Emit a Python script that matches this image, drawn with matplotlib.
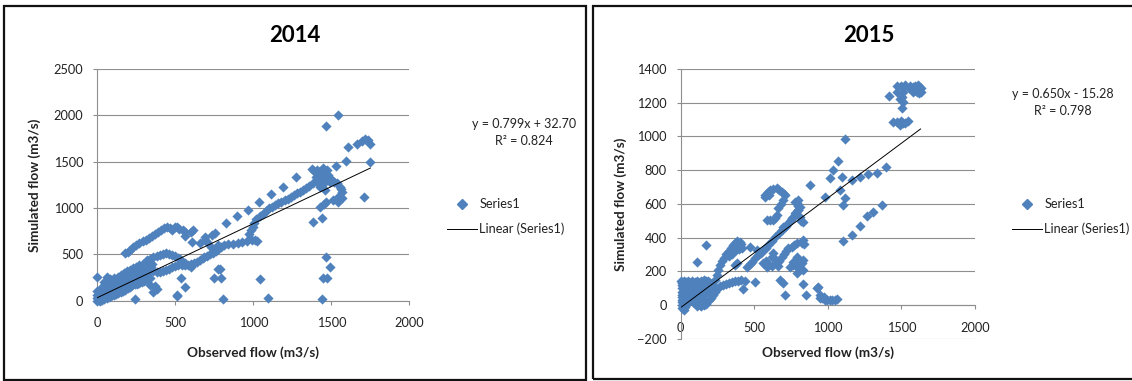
import matplotlib
matplotlib.use("Agg")
import matplotlib.pyplot as plt
from matplotlib.lines import Line2D
from matplotlib.patches import Rectangle
import numpy as np

plt.rcParams['font.family'] = ['Lato', 'DejaVu Sans']

# observed vs simulated daily flow (m3/s)
points_2014 = [
    # dense band near the origin
    (0, 0), (10, 5), (20, 0), (30, 10), (45, 20), (60, 30), (75, 40), (90, 50), (105, 65), (120, 75),
    (135, 85), (150, 95), (165, 110), (180, 120), (195, 135), (210, 150), (225, 165), (240, 175),
    (255, 185), (270, 195), (285, 205), (300, 215), (320, 230), (340, 240),
    (0, 30), (15, 40), (30, 50), (45, 60), (60, 75), (75, 90), (90, 100), (105, 115), (120, 130),
    (135, 140), (150, 155), (165, 170), (180, 185), (195, 195), (210, 210), (225, 225), (240, 240),
    (255, 250), (270, 265), (285, 275), (300, 290), (315, 300), (330, 310),
    (0, 60), (20, 80), (40, 100), (55, 110), (70, 130), (85, 145), (100, 160), (115, 175), (130, 190),
    (145, 205), (160, 220), (175, 235), (190, 250), (205, 265), (220, 280), (235, 295), (250, 310),
    (265, 325), (280, 340), (295, 355), (310, 370), (325, 385),
    (0, 100), (25, 140), (50, 170), (70, 190), (90, 220), (110, 240), (130, 260), (150, 280),
    (170, 300), (190, 320), (210, 335), (230, 350), (250, 365), (270, 380), (290, 400), (310, 420),
    (0, 259), (60, 260), (80, 230), (40, 200), (241, 14), (338, 169), (359, 97), (380, 130), (370, 160),
    (200, 200), (260, 220), (280, 300), (230, 260), (160, 190), (120, 150),
    # loop between 300 and 560
    (320, 440), (340, 455), (360, 470), (380, 485), (400, 495), (420, 505), (440, 510), (460, 505),
    (480, 495), (500, 480), (515, 465), (530, 445), (545, 420), (555, 400),
    (340, 330), (360, 320), (380, 310), (400, 315), (420, 320), (440, 330), (460, 345), (480, 360),
    (500, 375), (520, 385), (540, 390), (560, 385), (350, 400), (330, 380), (345, 360),
    (535, 248), (560, 151), (514, 61),
    # lower strand up to 1000
    (560, 410), (580, 380), (600, 395), (620, 410), (640, 420), (660, 440), (680, 460), (700, 480),
    (720, 500), (740, 520), (760, 540), (775, 560), (790, 580), (600, 367), (681, 475), (729, 583),
    (810, 600), (840, 610), (870, 615), (900, 620), (930, 630), (960, 640), (990, 650), (1010, 660),
    (1025, 640),
    (605, 637), (658, 619), (692, 691), (701, 637), (735, 709), (754, 727), (776, 601), (693, 655),
    # upper strand from 180 to 560
    (180, 510), (195, 530), (210, 550), (230, 575), (250, 600), (270, 620), (290, 640), (310, 660),
    (330, 680), (350, 700), (370, 720), (390, 740), (410, 760), (430, 780), (445, 800), (465, 780),
    (480, 760), (495, 790), (510, 800), (525, 770), (550, 760), (560, 700), (565, 740), (600, 744),
    (613, 762),
    # rising strand beyond 1000
    (975, 720), (985, 760), (995, 800), (1005, 840), (1020, 880), (1040, 910), (1060, 940),
    (1080, 970), (1100, 995), (1120, 1015), (1140, 1035), (1160, 1050), (1180, 1065), (1200, 1085),
    (1220, 1100), (1240, 1120), (1260, 1140), (1280, 1160), (1300, 1175), (1320, 1195), (1340, 1215),
    (1360, 1240), (1380, 1270),
    (823, 835), (893, 917), (964, 978), (1039, 1061), (1111, 1147), (1188, 1230), (1274, 1331),
    # cluster near 1450
    (1374, 1417), (1390, 1400), (1406, 1410), (1420, 1390), (1449, 1428), (1470, 1410), (1427, 1356),
    (1449, 1302), (1406, 1284), (1470, 1338), (1492, 1284), (1427, 1230), (1460, 1194), (1440, 1320),
    (1460, 1380), (1480, 1360), (1400, 1340), (1415, 1310), (1445, 1260),
    (1502, 1302), (1534, 1266), (1555, 1230), (1566, 1176), (1545, 1122), (1513, 1086), (1545, 1068),
    (1566, 1104), (1520, 1280), (1560, 1200),
    (1464, 1068), (1427, 1007), (1385, 852), (1438, 888), (1450, 1040),
    # high end
    (1530, 1453), (1594, 1507), (1609, 1662), (1663, 1687), (1695, 1727), (1715, 1740), (1737, 1734),
    (1750, 1690), (1748, 1500), (1710, 1122), (1540, 2000), (1465, 1890),
    # low outliers
    (1464, 468), (1492, 360), (1449, 248), (1470, 248), (1438, 14), (1043, 237), (1096, 25),
    (808, 14), (750, 241), (771, 338), (785, 345), (790, 240), (509, 54),
]

points_2015 = [
    # blob near the origin
    (5, 140), (20, 145), (35, 135), (50, 140), (65, 130), (80, 145), (95, 135), (110, 140), (125, 130),
    (140, 145), (155, 150), (170, 140), (185, 145), (200, 130),
    (10, 100), (15, 110), (30, 95), (45, 105), (60, 100), (75, 110), (90, 95), (105, 100), (120, 110),
    (135, 95), (150, 105), (165, 100), (180, 110), (195, 120), (210, 125),
    (10, 60), (15, 70), (30, 55), (45, 65), (60, 50), (75, 60), (90, 70), (105, 55), (120, 65),
    (135, 50), (150, 60), (165, 70), (180, 80), (195, 85), (210, 90), (225, 100),
    (10, 20), (10, 30), (25, 10), (40, 25), (55, 15), (70, 30), (85, 20), (100, 10), (115, 25),
    (130, 0), (145, 5), (160, 10), (175, 20), (190, 30), (205, 40), (220, 60),
    (10, -20), (20, -30), (30, -10), (110, -5), (125, 5), (140, -5), (155, 0), (170, 5), (12, 0),
    (10, 120), (10, 130), (10, 80), (12, 50), (170, 356), (109, 257),
    # low strand 230-440
    (230, 80), (250, 95), (270, 110), (290, 120), (310, 125), (330, 130), (350, 135), (370, 140),
    (390, 145), (410, 150), (435, 145), (420, 95), (505, 138),
    # steep hump
    (230, 150), (245, 180), (255, 210), (265, 240), (280, 260), (295, 280), (310, 300), (325, 320),
    (340, 340), (355, 355), (370, 370), (385, 380), (400, 375), (410, 360), (415, 340),
    (330, 290), (350, 300), (360, 320), (380, 330), (395, 330), (370, 240), (380, 250),
    # middle strand 440-810
    (448, 227), (470, 245), (482, 257), (505, 280), (528, 297), (545, 310), (562, 326), (580, 340),
    (595, 356), (620, 380), (641, 405), (665, 425), (686, 445), (710, 465), (731, 484), (755, 515),
    (777, 544), (795, 565), (811, 583),
    (471, 346), (516, 326), (539, 306), (561, 247), (584, 227),
    # cluster 550-800
    (573, 652), (590, 670), (607, 682), (630, 690), (652, 692), (670, 685), (686, 672), (700, 660),
    (709, 652), (697, 623), (680, 600), (663, 573), (652, 534), (640, 515), (629, 504), (610, 505),
    (584, 504), (575, 640), (600, 650),
    (788, 603), (795, 590), (799, 563), (810, 524), (833, 494), (765, 524), (750, 505), (715, 470),
    (697, 465), (780, 610), (800, 620), (820, 500),
    (618, 287), (640, 270), (652, 247), (670, 260), (686, 287), (700, 300), (715, 320), (731, 336),
    (754, 346), (770, 355), (790, 365), (743, 227), (765, 257), (788, 287), (675, 148), (697, 128),
    (709, 59), (660, 230), (600, 240), (580, 260), (620, 230), (630, 310), (760, 240), (780, 250),
    (800, 220), (788, 188), (799, 237), (833, 267), (833, 385), (822, 366), (840, 360), (829, 208),
    (822, 247),
    # tail falling towards 1050
    (833, 125), (851, 59), (924, 99), (935, 109), (946, 39), (958, 40), (980, 30), (992, 30),
    (1014, 30), (1026, 30), (1048, 30), (1060, 34), (975, 45), (950, 60),
    # upper right
    (878, 712), (980, 642), (1014, 751), (1037, 800), (1067, 856), (1116, 985), (1094, 761),
    (1082, 682), (1116, 632), (1100, 593), (1162, 741), (1218, 761), (1275, 775), (1337, 785),
    (1393, 816),
    (1100, 377), (1161, 417), (1218, 466), (1263, 525), (1304, 554), (1365, 593),
    # top cluster
    (1418, 1242), (1467, 1265), (1467, 1299), (1500, 1300), (1523, 1305), (1550, 1290), (1580, 1295),
    (1591, 1301), (1614, 1305), (1624, 1285), (1630, 1285), (1630, 1265), (1603, 1265), (1620, 1255),
    (1580, 1265), (1512, 1265), (1501, 1236), (1490, 1220), (1512, 1206), (1501, 1166), (1560, 1300),
    (1444, 1088), (1467, 1087), (1490, 1067), (1512, 1077), (1546, 1093), (1500, 1090), (1525, 1080),
]

fit_2014 = (0.799, 32.70, 0.824)
fit_2015 = (0.650, -15.28, 0.798)

xticks = [0, 500, 1000, 1500, 2000]
yticks_2014 = [0, 500, 1000, 1500, 2000, 2500]
yticks_2015 = [-200, 0, 200, 400, 600, 800, 1000, 1200, 1400]

W, H = 1132, 381
blue = '#4F81BD'
grid_col = '#8E8E8E'


def fx(px):
    return px / W


def fy(py):
    return 1 - py / H


fig = plt.figure(figsize=(W / 100, H / 100), dpi=100)

# chart frames
fig.add_artist(Rectangle((fx(4), fy(380)), fx(586) - fx(4), fy(6) - fy(380),
                         transform=fig.transFigure, fill=False, ec='#111111', lw=1.6))
fig.add_artist(Rectangle((fx(593), fy(379)), fx(1145) - fx(593), fy(6) - fy(379),
                         transform=fig.transFigure, fill=False, ec='#111111', lw=1.6))

panels = [
    dict(pts=points_2014, fit=fit_2014, yticks=yticks_2014, title='2014',
         box=(97.3, 409.3, 69, 300.7), cx=295, ylab_x=34.5, xlab_y=353,
         eq_x=524, eq_y=124, leg_x=446.7, sign='+'),
    dict(pts=points_2015, fit=fit_2015, yticks=yticks_2015, title='2015',
         box=(680.7, 975, 69, 338.7), cx=869, ylab_x=621, xlab_y=353,
         eq_x=1063, eq_y=94, leg_x=1011.7, sign='-'),
]

for p in panels:
    left, right, top, bottom = p['box']
    ax = fig.add_axes([fx(left), fy(bottom), fx(right) - fx(left), fy(top) - fy(bottom)])
    obs = np.array([q[0] for q in p['pts']])
    sim = np.array([q[1] for q in p['pts']])
    ax.scatter(obs, sim, marker='D', s=27, color=blue, lw=0, zorder=3, clip_on=False)

    slope, intercept, r2 = p['fit']
    xs = np.array([obs.min(), obs.max()])
    ax.plot(xs, slope * xs + intercept, color='black', lw=0.7, zorder=4)

    ax.set_xlim(0, 2000)
    ax.set_ylim(p['yticks'][0], p['yticks'][-1])
    ax.set_xticks(xticks)
    ax.set_yticks(p['yticks'])
    ax.yaxis.grid(True, color=grid_col, lw=0.8)
    ax.set_axisbelow(True)
    for s in ['top', 'right']:
        ax.spines[s].set_visible(False)
    for s in ['left', 'bottom']:
        ax.spines[s].set_color(grid_col)
        ax.spines[s].set_linewidth(0.8)
    ax.spines['bottom'].set_position(('data', 0))
    ax.tick_params(direction='out', length=3, width=0.8, color=grid_col,
                   labelsize=9.2, labelcolor='#222222')
    ax.tick_params(axis='y', pad=7)
    ax.tick_params(axis='x', pad=9)
    ax.patch.set_alpha(0)

    fig.text(fx(p['cx']), fy(36), p['title'], ha='center', va='center',
             fontsize=16, fontweight='bold')
    mid_y = (top + bottom) / 2
    fig.text(fx(p['ylab_x']), fy(mid_y), 'Simulated flow (m3/s)', rotation=90,
             ha='center', va='center', fontsize=9.8, fontweight='bold', color='#222222')
    fig.text(fx((left + right) / 2), fy(p['xlab_y']), 'Observed flow (m3/s)',
             ha='center', va='center', fontsize=9.8, fontweight='bold', color='#222222')

    eq = f"y = {slope:.3f}x {p['sign']} {abs(intercept):.2f}"
    fig.text(fx(p['eq_x']), fy(p['eq_y']), eq, ha='center', va='center',
             fontsize=9, color='#222222')
    fig.text(fx(p['eq_x']), fy(p['eq_y'] + 17), f"R² = {r2:.3f}", ha='center', va='center',
             fontsize=9, color='#222222')

    # legend
    lx = p['leg_x']
    fig.add_artist(Line2D([fx(lx + 15)], [fy(204)], marker='D', ms=5.1, color=blue, lw=0,
                          transform=fig.transFigure))
    fig.text(fx(lx + 32.5), fy(204), 'Series1', ha='left', va='center',
             fontsize=9.2, color='#222222')
    fig.add_artist(Line2D([fx(lx), fx(lx + 30)], [fy(229), fy(229)], color='black', lw=0.7,
                          transform=fig.transFigure))
    fig.text(fx(lx + 32.5), fy(229), 'Linear (Series1)', ha='left', va='center',
             fontsize=9.2, color='#222222')

fig.savefig('out.png', dpi=100)
